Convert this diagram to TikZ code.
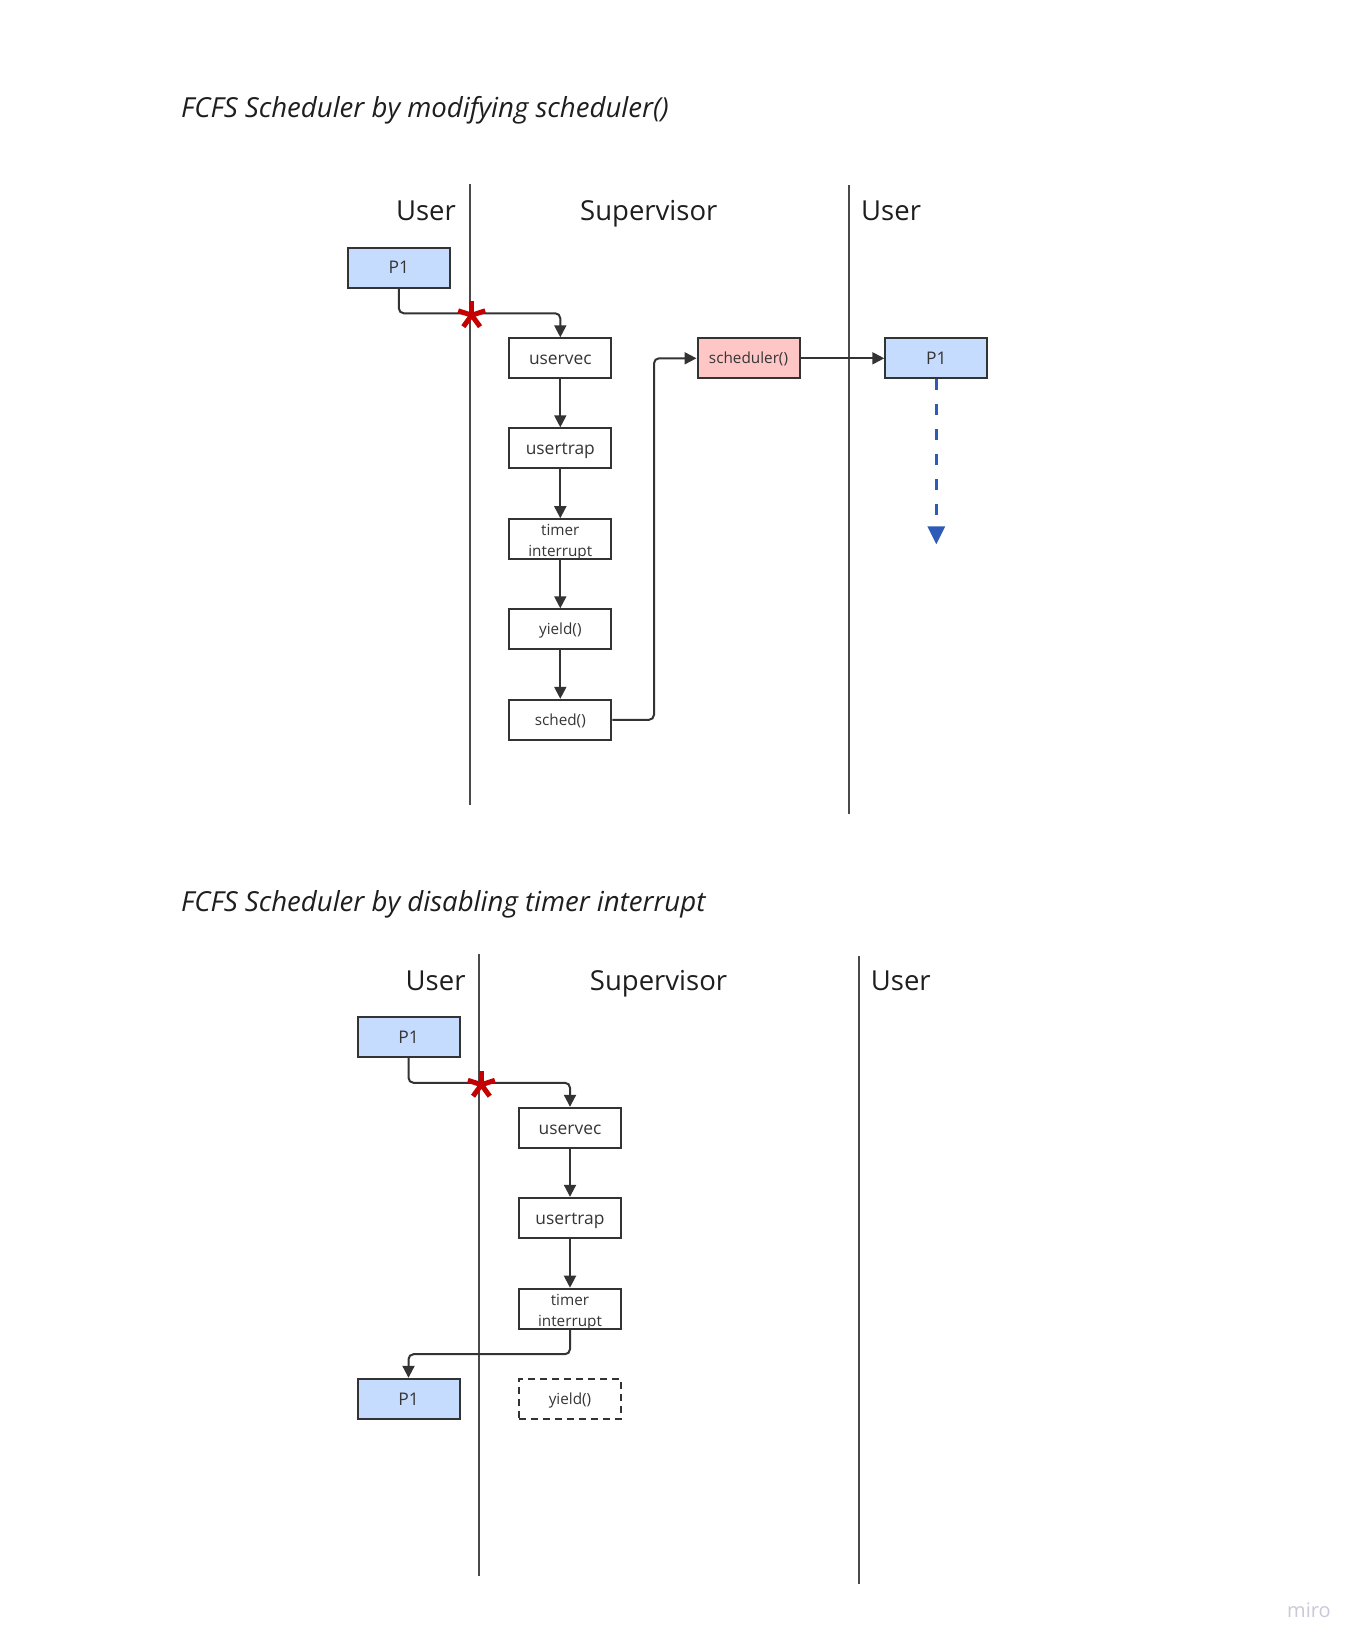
\documentclass[tikz,border=0pt]{standalone}
\usepackage{fontspec}
\setmainfont{Open Sans}
\usetikzlibrary{arrows.meta}
\definecolor{edge}{HTML}{333333}
\definecolor{lane}{HTML}{4A4A4A}
\definecolor{pblue}{HTML}{C6DCFF}
\definecolor{ppink}{HTML}{FFC6C6}
\definecolor{starred}{HTML}{C40000}
\definecolor{darr}{HTML}{2E5BB8}
\definecolor{wm}{HTML}{C9C9D9}
\definecolor{ink}{HTML}{1E1E1E}
\begin{document}
\begin{tikzpicture}[x=1pt,y=-1pt,
  box/.style={draw=edge,line width=2pt,minimum width=102pt,minimum height=40pt,inner sep=0pt,text=ink!90},
  small/.style={font=\fontsize{15.3}{21}\selectfont,text height=11pt,text depth=0pt},
  big/.style={font=\fontsize{17.4}{21}\selectfont,text height=12.4pt,text depth=0pt},
  twoline/.style={font=\fontsize{15.3}{21}\selectfont,align=center,text height=36pt,text depth=0.6pt},
  conn/.style={draw=edge,line width=2pt,rounded corners=5pt,-{Triangle[width=12pt,length=12pt]}},
  lanel/.style={draw=lane,line width=2pt},
  head/.style={font=\fontsize{27.5}{33}\selectfont,text=ink,inner sep=0pt},
  titl/.style={font=\fontsize{27.6}{34}\selectfont\itshape,text=ink,inner sep=0pt,anchor=base west},
  starline/.style={draw=starred,line width=5pt},
]
\useasboundingbox (0,0) rectangle (1363,1650);
\fill[white] (0,0) rectangle (1363,1650);

% titles
\node[titl] (t1) at (181,117.7) {FCFS Scheduler by modifying scheduler()};
\node[titl] (t2) at (181,911.7) {FCFS Scheduler by disabling timer interrupt};

% ---------- top section ----------
\draw[lanel] (469.7,184) -- (469.7,805);
\draw[lanel] (849,185) -- (849,814);
\node[head,anchor=base east] (u1) at (456,220.7) {User};
\node[head,anchor=base] (s1) at (648.8,220.7) {Supervisor};
\node[head,anchor=base west] (u2) at (861,220.7) {User};

\node[box,big,fill=pblue] (P1a) at (398.8,267.7) {P1};
\node[box,big] (uv1) at (560.3,358.3) {uservec};
\node[box,big] (ut1) at (560.3,448.3) {usertrap};
\node[box,twoline] (ti1) at (560.3,539.2) {timer\\interrupt};
\node[box,small] (yi1) at (560.3,629.3) {yield()};
\node[box,small] (sc1) at (560.3,719.8) {sched()};
\node[box,small,fill=ppink] (sr1) at (748.5,358.3) {scheduler()};
\node[box,big,fill=pblue] (P1b) at (936.3,358.3) {P1};
\coordinate (hit1) at (471.7,313.3);
\coordinate (btip) at (936.3,544.3);

\draw[conn] (P1a.south) |- (hit1) -| (uv1.north);
\draw[conn] (uv1) -- (ut1);
\draw[conn] (ut1) -- (ti1);
\draw[conn] (ti1) -- (yi1);
\draw[conn] (yi1) -- (sc1);
\draw[conn] (sc1.east) -- ++(41.7,0) |- (sr1.west);
\draw[conn] (sr1) -- (P1b);
\draw[draw=darr,line width=3pt,dash pattern=on 11pt off 14pt,-{Triangle[width=17pt,length=18pt,fill=darr]}] (P1b.south) -- (btip);

\foreach \a in {270,198,342,54,126} \draw[starline] (471.7,315.2) -- ++(\a:14.2);

% ---------- bottom section ----------
\begin{scope}[shift={(9.7,769.5)}]
\draw[lanel] (469.7,184) -- (469.7,806);
\draw[lanel] (849,186) -- (849,814.5);
\node[head,anchor=base east] (u3) at (456,220.7) {User};
\node[head,anchor=base] (s3) at (648.8,220.7) {Supervisor};
\node[head,anchor=base west] (u4) at (861,220.7) {User};

\node[box,big,fill=pblue] (P1c) at (398.8,267.7) {P1};
\node[box,big] (uv2) at (560.3,358.3) {uservec};
\node[box,big] (ut2) at (560.3,448.3) {usertrap};
\node[box,twoline] (ti2) at (560.3,539.2) {timer\\interrupt};
\node[box,big,fill=pblue] (P1d) at (398.8,629.3) {P1};
\node[box,small,dash pattern=on 7pt off 5pt] (yi2) at (560.3,629.3) {yield()};
\coordinate (hit2) at (471.7,313.3);

\draw[conn] (P1c.south) |- (hit2) -| (uv2.north);
\draw[conn] (uv2) -- (ut2);
\draw[conn] (ut2) -- (ti2);
\draw[conn] (ti2.south) -- ++(0,24.5) -| (P1d.north);

\foreach \a in {270,198,342,54,126} \draw[starline] (471.7,315.2) -- ++(\a:14.2);
\end{scope}

% watermark
\node[font=\fontsize{20}{24}\selectfont,text=wm,inner sep=0pt,anchor=base west] (wmark) at (1287,1617.7) {miro};
\end{tikzpicture}
\end{document}
